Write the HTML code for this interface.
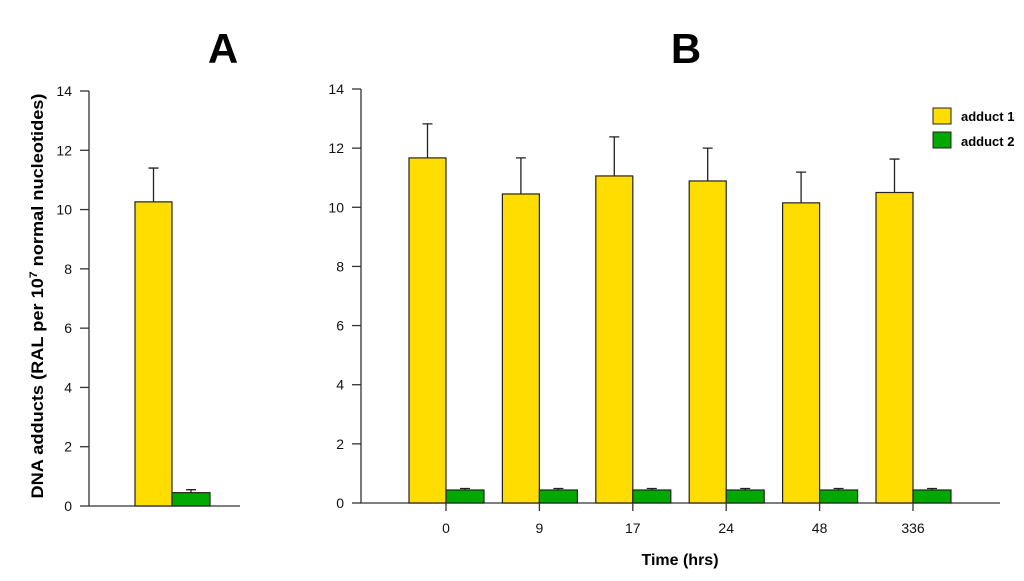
<!DOCTYPE html>
<html><head><meta charset="utf-8"><style>
body{margin:0;background:#fff}
svg{display:block;font-family:"Liberation Sans",Arial,sans-serif}
</style></head><body>
<svg id="chart" width="1024" height="581" viewBox="0 0 1024 581">
<text x="223" y="63" font-size="42" font-weight="bold" text-anchor="middle">A</text>
<text x="686" y="63" font-size="42" font-weight="bold" text-anchor="middle">B</text>
<text transform="translate(43,296) rotate(-90)" font-size="16.5" font-weight="bold" text-anchor="middle" textLength="405" lengthAdjust="spacingAndGlyphs">DNA adducts (RAL per 10<tspan dy="-6" font-size="11">7</tspan><tspan dy="6"> normal nucleotides)</tspan></text>
<text x="680" y="565" font-size="16" font-weight="bold" text-anchor="middle">Time (hrs)</text>
<g id="pa"></g><g id="pb"></g>
<g>
<rect x="933" y="108" width="18" height="16" fill="#FFDD00" stroke="#222"/>
<text x="961" y="121" font-size="13" font-weight="bold">adduct 1</text>
<rect x="933" y="132" width="18" height="16" fill="#00A800" stroke="#222"/>
<text x="961" y="146" font-size="13" font-weight="bold">adduct 2</text>
</g>
</svg>
<script>
const yTicks=[0,2,4,6,8,10,12,14];
const aValues1=[10.26];const aErr1=[1.14];
const aValues2=[0.45];const aErr2=[0.1];
const categories=["0","9","17","24","48","336"];
const bValues1=[11.67,10.45,11.06,10.89,10.15,10.5];
const bErr1=[1.15,1.22,1.32,1.11,1.04,1.13];
const bValues2=[0.44,0.44,0.44,0.44,0.44,0.44];
const bErr2=[0.05,0.05,0.05,0.05,0.05,0.05];
const NS="http://www.w3.org/2000/svg";
function mk(p,t,a){const e=document.createElementNS(NS,t);for(const k in a)e.setAttribute(k,a[k]);p.appendChild(e);return e;}
function axisY(y0,y14){return v=>y0-(y0-y14)*v/14;}
function drawBar(g,x,w,v,err,y,fill,name){
 const r=mk(g,'rect',{x:x,y:y(v),width:w,height:y(0)-y(v),fill:fill,stroke:'#222','stroke-width':1.2});
 
 
 const cx=x+w/2;
 const l=mk(g,'path',{d:`M${cx} ${y(v)}V${y(v+err)}M${cx-5} ${y(v+err)}H${cx+5}`,stroke:'#222','stroke-width':1.3,fill:'none'});
 
 
}
function yAxis(g,ax,y,x2){
 mk(g,'path',{d:`M${ax} ${y(14)}V${y(0)}H${x2}`,stroke:'#333','stroke-width':1.3,fill:'none'});
 yTicks.forEach(t=>{
  mk(g,'line',{x1:ax-9,x2:ax,y1:y(t),y2:y(t),stroke:'#333','stroke-width':1.3});
  const tx=mk(g,'text',{x:ax-17,y:y(t)+5,'font-size':14,'text-anchor':'end',fill:'#111'});
  tx.textContent=t;
  
  
 });
}
const ga=document.getElementById('pa');


const ya=axisY(506,91);
yAxis(ga,89,ya,240);
drawBar(ga,135,37,aValues1[0],aErr1[0],ya,'#FFDD00','bar-a-adduct-1');
drawBar(ga,172,38,aValues2[0],aErr2[0],ya,'#00A800','bar-a-adduct-2');
const gb=document.getElementById('pb');


const yb=axisY(503,89);
yAxis(gb,361,yb,1000);
const xb=i=>446+i*93.4;
categories.forEach((c,i)=>{
 const cx=xb(i);
 drawBar(gb,cx-37,37,bValues1[i],bErr1[i],yb,'#FFDD00','bar-b-adduct-1-'+c);
 drawBar(gb,cx,38,bValues2[i],bErr2[i],yb,'#00A800','bar-b-adduct-2-'+c);
 mk(gb,'line',{x1:cx,x2:cx,y1:503,y2:511,stroke:'#333','stroke-width':1.3});
 const t=mk(gb,'text',{x:cx,y:533,'font-size':14,'text-anchor':'middle',fill:'#111'});
 t.textContent=c;
 
 
});
</script>
</body></html>
